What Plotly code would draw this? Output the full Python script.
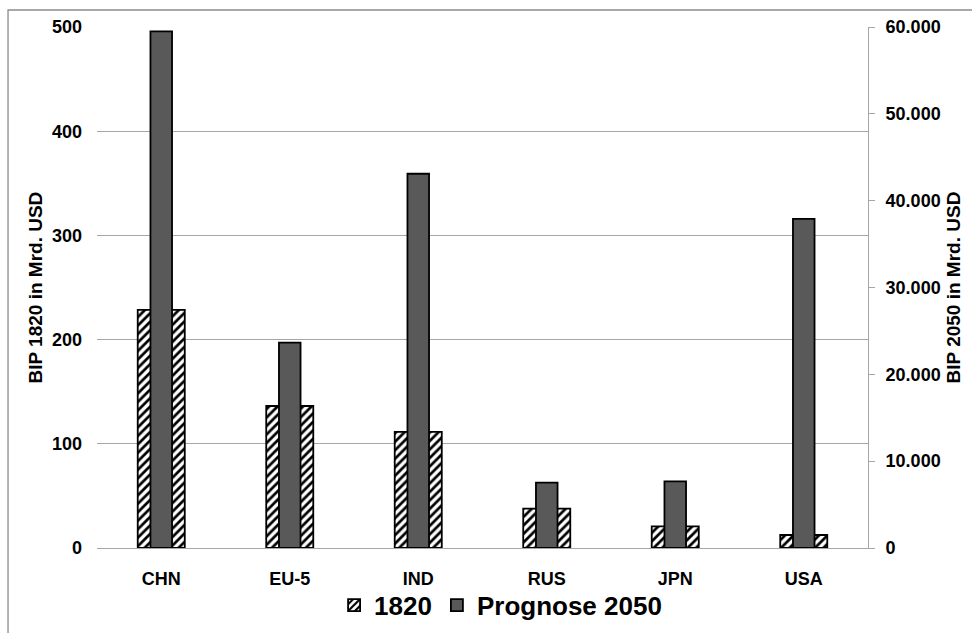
import plotly.graph_objects as go

# GDP by economy: 1820 (left axis) and projection for 2050 (right axis), bn USD
regions = ["CHN", "EU-5", "IND", "RUS", "JPN", "USA"]
gdp_1820 = [228.6, 136.3, 111.4, 37.7, 20.7, 12.5]
gdp_2050 = [59500, 23650, 43100, 7520, 7680, 37900]

series_1820 = "1820"
series_2050 = "Prognose 2050"
title_left = "BIP 1820 in Mrd. USD"
title_right = "BIP 2050 in Mrd. USD"

left_ticks = [0, 100, 200, 300, 400, 500]
right_ticks = [0, 10000, 20000, 30000, 40000, 50000, 60000]

FONT = "Liberation Sans, Arial, sans-serif"
GRID = "#a6a6a6"

w_wide = 0.366
w_narrow = 0.168

fig = go.Figure()

fig.add_trace(go.Bar(
    name=series_1820,
    x=regions,
    y=gdp_1820,
    yaxis="y",
    width=w_wide,
    offset=-w_wide / 2,
    marker=dict(
        color="white",
        line=dict(color="black", width=1.8),
        pattern=dict(shape="/", fgcolor="black", bgcolor="white",
                     size=6, solidity=0.45, fillmode="replace"),
    ),
))

fig.add_trace(go.Bar(
    name=series_2050,
    x=regions,
    y=gdp_2050,
    yaxis="y2",
    width=w_narrow,
    offset=-w_narrow / 2,
    marker=dict(color="#595959", line=dict(color="black", width=1.8)),
))

tick_font = dict(family=FONT, size=18, weight="bold", color="black")

fig.update_layout(
    width=972,
    height=633,
    margin=dict(l=97, r=104, t=27, b=85, autoexpand=False),
    paper_bgcolor="white",
    plot_bgcolor="white",
    separators=",.",
    barmode="overlay",
    font=dict(family=FONT, color="black"),
    showlegend=True,
    legend=dict(
        orientation="h",
        xref="container", yref="container",
        x=0.515, xanchor="center",
        y=0.044, yanchor="middle",
        font=dict(family=FONT, size=26, weight="bold", color="black"),
        itemwidth=30,
        bgcolor="rgba(0,0,0,0)",
    ),
    xaxis=dict(
        type="category",
        range=[-0.5, 5.5],
        automargin=False,
        showline=True, linecolor=GRID, linewidth=1,
        ticks="",
        showgrid=False,
        tickfont=tick_font,
        ticklabelstandoff=14,
    ),
    yaxis=dict(
        range=[0, 500],
        tickvals=left_ticks,
        automargin=False,
        showgrid=True, gridcolor=GRID, gridwidth=1,
        zeroline=False,
        showline=False,
        ticks="",
        tickfont=tick_font,
        ticklabelstandoff=14,
    ),
    yaxis2=dict(
        range=[0, 60000],
        tickvals=right_ticks,
        tickformat=",d",
        overlaying="y",
        side="right",
        automargin=False,
        showgrid=False,
        zeroline=False,
        showline=True, linecolor=GRID, linewidth=1,
        ticks="outside", ticklen=6, tickcolor=GRID,
        tickfont=tick_font,
        ticklabelstandoff=7,
    ),
)

# axis titles
title_font = dict(family=FONT, size=19, color="black")
fig.add_annotation(text="<b>" + title_left + "</b>", xref="paper", yref="paper",
                   x=-0.0804, y=0.5, xanchor="center", yanchor="middle",
                   textangle=-90, showarrow=False, font=title_font)
fig.add_annotation(text="<b>" + title_right + "</b>", xref="paper", yref="paper",
                   x=1.1115, y=0.5, xanchor="center", yanchor="middle",
                   textangle=-90, showarrow=False, font=title_font)

# chart frame
fig.add_shape(type="rect", xref="paper", yref="paper",
              x0=-0.1154, y0=-0.35, x1=1.3, y1=1.0326,
              line=dict(color="#8c8c8c", width=1.3), layer="below")

fig.write_html("out.html")
